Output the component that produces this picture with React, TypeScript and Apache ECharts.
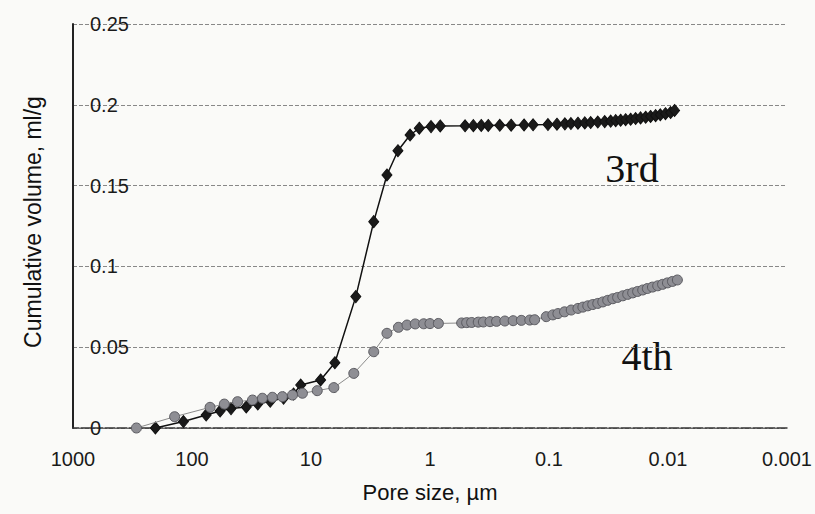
import React, { useEffect, useRef } from "react";
import * as echarts from "echarts";

// Pore size (µm) and cumulative volume (ml/g)
const poreSize3rd = [203, 118, 76, 58, 47, 35, 28, 22, 17, 14, 12.2, 8.3, 6.3, 4.2, 2.97, 2.3, 1.86, 1.47, 1.23, 0.98, 0.82, 0.507, 0.432, 0.371, 0.324, 0.259, 0.208, 0.162, 0.136, 0.102, 0.0857, 0.0735, 0.0654, 0.0571, 0.05, 0.0446, 0.0389, 0.034, 0.0303, 0.0275, 0.025, 0.0227, 0.0206, 0.0187, 0.017, 0.0154, 0.014, 0.0127, 0.0116, 0.0105, 0.0095, 0.0088];
const volume3rd = [0, 0.004, 0.008, 0.0105, 0.012, 0.013, 0.0148, 0.0165, 0.0185, 0.021, 0.0266, 0.0297, 0.0404, 0.0813, 0.1277, 0.1566, 0.1716, 0.1813, 0.1855, 0.1865, 0.1869, 0.187, 0.1871, 0.1872, 0.1872, 0.1873, 0.1874, 0.1875, 0.1876, 0.1878, 0.188, 0.1882, 0.1884, 0.1886, 0.1888, 0.189, 0.1893, 0.1896, 0.1899, 0.1902, 0.1905, 0.1908, 0.1911, 0.1915, 0.1919, 0.1923, 0.1928, 0.1933, 0.1938, 0.1945, 0.1952, 0.1965];

const poreSize4th = [293, 140, 70.5, 53.5, 41.4, 31, 25.6, 21.1, 17.4, 14.3, 11.8, 8.86, 6.43, 4.37, 2.97, 2.3, 1.84, 1.56, 1.33, 1.13, 1.0, 0.85, 0.542, 0.492, 0.447, 0.393, 0.356, 0.313, 0.276, 0.235, 0.2, 0.1706, 0.145, 0.132, 0.1054, 0.0927, 0.0841, 0.074, 0.065, 0.0571, 0.0519, 0.0472, 0.0429, 0.0389, 0.0353, 0.0321, 0.0291, 0.0265, 0.024, 0.0218, 0.0198, 0.018, 0.0163, 0.0149, 0.0135, 0.0122, 0.0111, 0.0101, 0.00917, 0.00834];
const volume4th = [0, 0.007, 0.0128, 0.0148, 0.0163, 0.0173, 0.0184, 0.019, 0.0194, 0.0204, 0.0215, 0.0231, 0.025, 0.0338, 0.0472, 0.0586, 0.0623, 0.0637, 0.0644, 0.0645, 0.0646, 0.0647, 0.065, 0.0652, 0.0653, 0.0655, 0.0656, 0.0658, 0.066, 0.0662, 0.0664, 0.0666, 0.0668, 0.067, 0.0689, 0.07, 0.0708, 0.0719, 0.073, 0.074, 0.0748, 0.0756, 0.0764, 0.0771, 0.078, 0.079, 0.08, 0.0808, 0.0818, 0.0827, 0.0836, 0.0845, 0.0854, 0.0863, 0.0872, 0.088, 0.0889, 0.0898, 0.0907, 0.0916];

// Tick labels, indexed by log10 exponent from -3 to 3
const xTickLabels = ["0.001", "0.01", "0.1", "1", "10", "100", "1000"];
const yTickLabels = ["0", "0.05", "0.1", "0.15", "0.2", "0.25"];

const seriesNames = ["3rd", "4th"];
const xTitle = "Pore size, µm";
const yTitle = "Cumulative volume, ml/g";

const sans = "'Liberation Sans', Arial, sans-serif";
const serif = "'Liberation Serif', 'Times New Roman', serif";

export default function App() {
  const ref = useRef<HTMLDivElement>(null);
  useEffect(() => {
    if (!ref.current) return;
    const chart = echarts.init(ref.current, null, { renderer: "svg" });
    const d3 = poreSize3rd.map((x, i) => [x, volume3rd[i]]);
    const d4 = poreSize4th.map((x, i) => [x, volume4th[i]]);
    chart.setOption({
      animation: false,
      backgroundColor: "#fafaf8",
      grid: { left: 73, right: 25, top: 24, bottom: 86 },
      xAxis: {
        type: "log",
        logBase: 10,
        min: 0.001,
        max: 1000,
        inverse: true,
        axisLine: { show: true, lineStyle: { color: "#333", width: 1.5, type: [10, 2] } },
        axisTick: { show: false },
        splitLine: { show: false },
        axisLabel: {
          fontSize: 20,
          fontFamily: sans,
          color: "#1a1a1a",
          margin: 21,
          formatter: (v: number) => xTickLabels[Math.round(Math.log10(v)) + 3] ?? "",
        },
      },
      yAxis: {
        type: "value",
        min: 0,
        max: 0.25,
        interval: 0.05,
        axisLine: { show: true, onZero: false, lineStyle: { color: "#222", width: 2 } },
        axisTick: { show: false },
        splitLine: { show: true, lineStyle: { color: "#888", width: 1, type: [4, 2] } },
        axisLabel: {
          inside: true,
          margin: 17,
          fontSize: 20,
          fontFamily: sans,
          color: "#1a1a1a",
          formatter: (v: number) => yTickLabels[Math.round(v / 0.05)] ?? "",
        },
      },
      series: [
        {
          name: seriesNames[0],
          type: "line",
          data: d3,
          symbol: "diamond",
          symbolSize: [10, 12],
          lineStyle: { color: "#111", width: 1.5 },
          itemStyle: { color: "#1a1a1a", borderColor: "#111", borderWidth: 1 },
          z: 2,
        },
        {
          name: seriesNames[1],
          type: "line",
          data: d4,
          symbol: "circle",
          symbolSize: 10,
          lineStyle: { color: "#8a8a8a", width: 1 },
          itemStyle: { color: "#8e8e94", borderColor: "#5a5a60", borderWidth: 1 },
          z: 3,
        },
      ],
      graphic: [
        {
          type: "text",
          x: 430,
          y: 492,
          style: { text: xTitle, font: `22px ${sans}`, fill: "#111", align: "center", verticalAlign: "middle" },
        },
        {
          type: "text",
          x: 33,
          y: 222,
          rotation: Math.PI / 2,
          style: { text: yTitle, font: `23px ${sans}`, fill: "#111", align: "center", verticalAlign: "middle" },
        },
        {
          type: "text",
          x: 632,
          y: 168,
          style: { text: seriesNames[0], font: `40px ${serif}`, fill: "#111", align: "center", verticalAlign: "middle" },
        },
        {
          type: "text",
          x: 647,
          y: 356,
          style: { text: seriesNames[1], font: `40px ${serif}`, fill: "#111", align: "center", verticalAlign: "middle" },
        },
      ],
    });
    return () => chart.dispose();
  }, []);
  return <div ref={ref} style={{ position: "absolute", left: 0, top: 0, width: 815, height: 514 }} />;
}
